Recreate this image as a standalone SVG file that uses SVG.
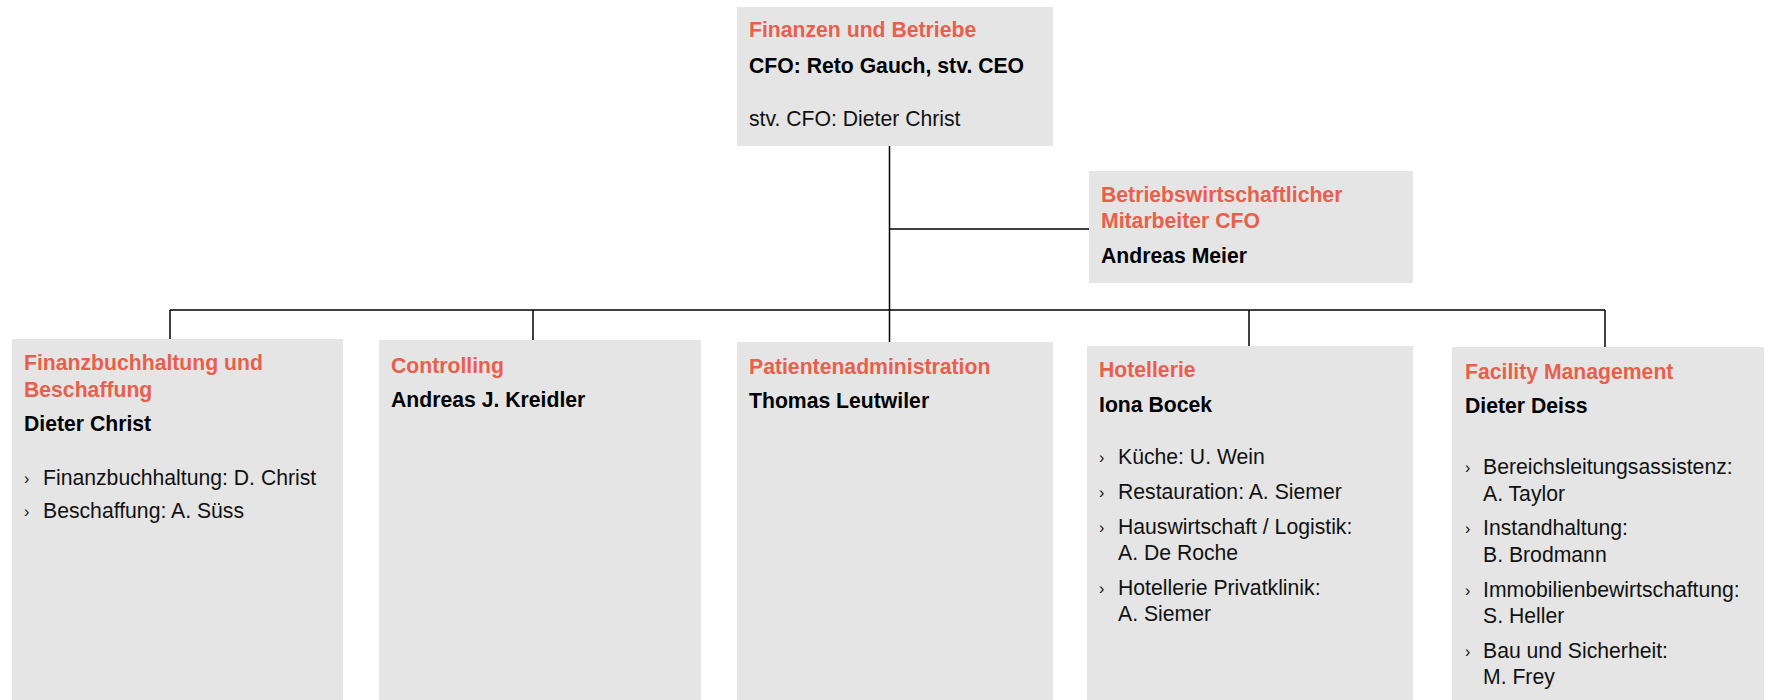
<svg xmlns="http://www.w3.org/2000/svg" width="1776" height="700" viewBox="0 0 1776 700">
<style>
.box{fill:#e5e5e5}
.t{font-family:"Liberation Sans",Arial,sans-serif;font-size:21.2px;font-weight:bold;fill:#e8604c}
.n{font-family:"Liberation Sans",Arial,sans-serif;font-size:21.2px;font-weight:bold;fill:#000}
.r{font-family:"Liberation Sans",Arial,sans-serif;font-size:21.2px;fill:#111}
.b{font-family:"Liberation Sans",Arial,sans-serif;font-size:16px;fill:#111}
.c{stroke:#000;stroke-width:1.5;fill:none}
</style>
<rect width="1776" height="700" fill="#fff"/>
<g id="connectors">
<line class="c" x1="889.5" y1="146" x2="889.5" y2="342"/>
<line class="c" x1="889.5" y1="229" x2="1089" y2="229"/>
<line class="c" x1="170" y1="310" x2="1605" y2="310"/>
<line class="c" x1="170" y1="310" x2="170" y2="339"/>
<line class="c" x1="533" y1="310" x2="533" y2="340"/>
<line class="c" x1="1249" y1="310" x2="1249" y2="346"/>
<line class="c" x1="1605" y1="310" x2="1605" y2="347"/>
</g>
<g id="cfo">
<rect class="box" x="737" y="7" width="316" height="139"/>
<text class="t" x="749" y="37">Finanzen und Betriebe</text>
<text class="n" x="749" y="73">CFO: Reto Gauch, stv. CEO</text>
<text class="r" x="749" y="126">stv. CFO: Dieter Christ</text>
</g>
<g id="mitarbeiter">
<rect class="box" x="1089" y="171" width="324" height="112"/>
<text class="t" x="1101" y="202">Betriebswirtschaftlicher</text>
<text class="t" x="1101" y="228">Mitarbeiter CFO</text>
<text class="n" x="1101" y="263">Andreas Meier</text>
</g>
<g id="finanzbuchhaltung">
<rect class="box" x="12" y="339" width="331" height="361"/>
<text class="t" x="24" y="370">Finanzbuchhaltung und</text>
<text class="t" x="24" y="397">Beschaffung</text>
<text class="n" x="24" y="431">Dieter Christ</text>
<text class="b" x="24" y="484">›</text><text class="r" x="43" y="485">Finanzbuchhaltung: D. Christ</text>
<text class="b" x="24" y="517">›</text><text class="r" x="43" y="518">Beschaffung: A. Süss</text>
</g>
<g id="controlling">
<rect class="box" x="379" y="340" width="322" height="360"/>
<text class="t" x="391" y="373">Controlling</text>
<text class="n" x="391" y="407">Andreas J. Kreidler</text>
</g>
<g id="patientenadministration">
<rect class="box" x="737" y="342" width="316" height="358"/>
<text class="t" x="749" y="374">Patientenadministration</text>
<text class="n" x="749" y="408">Thomas Leutwiler</text>
</g>
<g id="hotellerie">
<rect class="box" x="1087" y="346" width="326" height="354"/>
<text class="t" x="1099" y="377">Hotellerie</text>
<text class="n" x="1099" y="412">Iona Bocek</text>
<text class="b" x="1099" y="463">›</text><text class="r" x="1118" y="464">Küche: U. Wein</text>
<text class="b" x="1099" y="498">›</text><text class="r" x="1118" y="499">Restauration: A. Siemer</text>
<text class="b" x="1099" y="533">›</text><text class="r" x="1118" y="534">Hauswirtschaft / Logistik:</text>
<text class="r" x="1118" y="560">A. De Roche</text>
<text class="b" x="1099" y="594">›</text><text class="r" x="1118" y="595">Hotellerie Privatklinik:</text>
<text class="r" x="1118" y="621">A. Siemer</text>
</g>
<g id="facility">
<rect class="box" x="1452" y="347" width="312" height="353"/>
<text class="t" x="1465" y="379">Facility Management</text>
<text class="n" x="1465" y="413">Dieter Deiss</text>
<text class="b" x="1465" y="473">›</text><text class="r" x="1483" y="474">Bereichsleitungsassistenz:</text>
<text class="r" x="1483" y="501">A. Taylor</text>
<text class="b" x="1465" y="534">›</text><text class="r" x="1483" y="535">Instandhaltung:</text>
<text class="r" x="1483" y="562">B. Brodmann</text>
<text class="b" x="1465" y="596">›</text><text class="r" x="1483" y="597">Immobilienbewirtschaftung:</text>
<text class="r" x="1483" y="623">S. Heller</text>
<text class="b" x="1465" y="657">›</text><text class="r" x="1483" y="658">Bau und Sicherheit:</text>
<text class="r" x="1483" y="684">M. Frey</text>
</g>
</svg>
